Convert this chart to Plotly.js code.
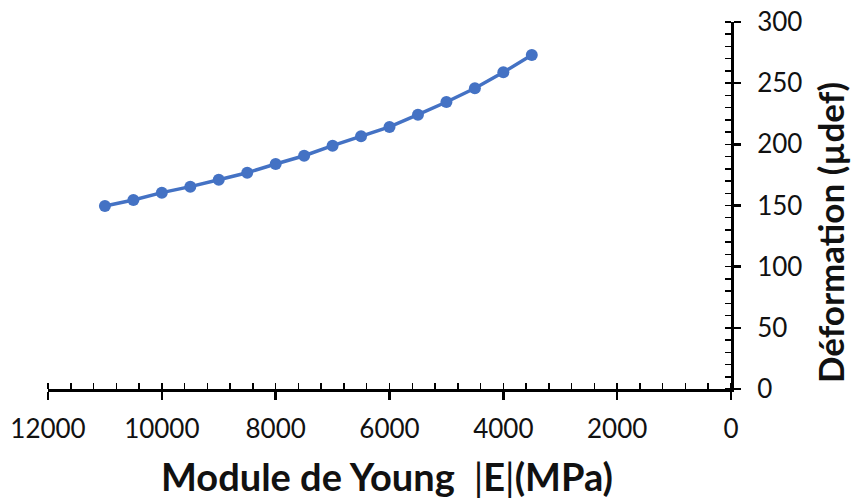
<!DOCTYPE html>
<html>
<head>
<meta charset="utf-8">
<script src="https://cdn.plot.ly/plotly-3.0.1.min.js"></script>
<style>html,body{margin:0;padding:0;background:#fff;}#chart{width:855px;height:502px;}</style>
</head>
<body>
<div id="chart"></div>
<script>
const youngModulus = [11000, 10500, 10000, 9500, 9000, 8500, 8000, 7500, 7000, 6500, 6000, 5500, 5000, 4500, 4000, 3500];
const deformation = [149.6, 154.5, 160.5, 165.4, 171.1, 176.8, 183.9, 190.7, 198.9, 206.6, 214.2, 224.2, 234.6, 245.8, 258.9, 273.0];
const xRange = [12000, 0];
const yRange = [0, 300];
const xTitle = 'Module de Young <span style="font-weight:normal"> |</span>E<span style="font-weight:normal">|</span>(MPa)';
const yTitle = 'Déformation (µdef)';

const FONT = 'Lato, "Open Sans", sans-serif';
const trace = {
  x: youngModulus, y: deformation, type: 'scatter', mode: 'lines+markers',
  line: {color: '#4472C4', width: 3.5},
  marker: {color: '#4472C4', size: 12},
  showlegend: false, hoverinfo: 'none'
};
const layout = {
  width: 855, height: 502,
  margin: {l: 48, r: 124, t: 22, b: 113},
  paper_bgcolor: '#fff', plot_bgcolor: '#fff',
  font: {family: FONT, color: '#111'},
  xaxis: {
    range: xRange, autorange: false, dtick: 2000, tick0: 0, tickformat: 'd',
    showgrid: false, zeroline: false,
    showline: true, linecolor: '#000', linewidth: 3,
    ticks: 'outside', ticklen: 8, tickwidth: 2.5, tickcolor: '#000',
    minor: {dtick: 400, ticks: 'inside', ticklen: 6, tickwidth: 1.5, tickcolor: '#000', showgrid: false},
    tickfont: {family: FONT, size: 26, color: '#111'},
    ticklabelstandoff: 7
  },
  xaxis2: {
    range: xRange, autorange: false, dtick: 2000, tick0: 0, overlaying: 'x', anchor: 'y', side: 'bottom',
    showgrid: false, zeroline: false, showline: false, showticklabels: false,
    ticks: 'inside', ticklen: 8, tickwidth: 2.5, tickcolor: '#000'
  },
  yaxis: {
    range: yRange, autorange: false, dtick: 50, side: 'right',
    showgrid: false, zeroline: false,
    showline: true, linecolor: '#000', linewidth: 3,
    ticks: 'outside', ticklen: 7, tickwidth: 2.5, tickcolor: '#000',
    minor: {dtick: 10, ticks: 'inside', ticklen: 6, tickwidth: 1.5, tickcolor: '#000', showgrid: false},
    tickfont: {family: FONT, size: 26, color: '#111'},
    ticklabelstandoff: 11
  },
  yaxis2: {
    range: yRange, autorange: false, dtick: 50, overlaying: 'y', anchor: 'x', side: 'right',
    showgrid: false, zeroline: false, showline: false, showticklabels: false,
    ticks: 'inside', ticklen: 7, tickwidth: 2.5, tickcolor: '#000'
  },
  annotations: [
    {text: xTitle, xref: 'paper', yref: 'paper', x: 0.497, y: -0.238, xanchor: 'center', yanchor: 'middle',
     showarrow: false, font: {family: FONT, size: 38, color: '#111', weight: 'bold'}},
    {text: yTitle, xref: 'paper', yref: 'paper', x: 1.145, y: 0.425, xanchor: 'center', yanchor: 'middle',
     textangle: -90, showarrow: false, font: {family: FONT, size: 35, color: '#111', weight: 'bold'}}
  ]
};
Plotly.newPlot('chart', [trace], layout, {staticPlot: true, displayModeBar: false});
</script>
</body>
</html>
